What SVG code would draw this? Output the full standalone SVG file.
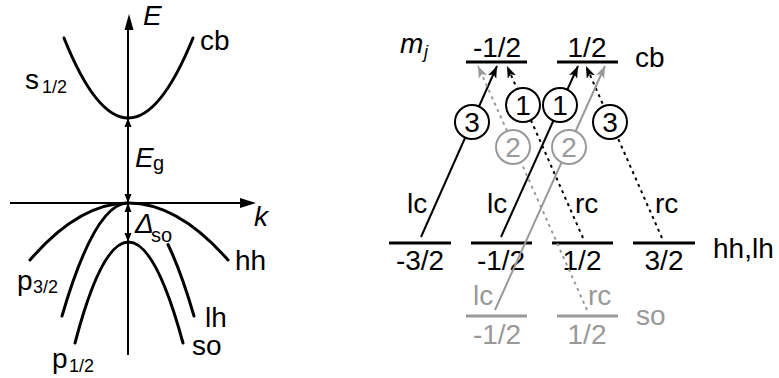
<svg xmlns="http://www.w3.org/2000/svg" width="779" height="378" viewBox="0 0 779 378">
<style>
text{font-family:"Liberation Sans",Arial,sans-serif;font-size:28px;fill:#000}
.it{font-style:italic}
.sub{font-size:18px}
.sub2{font-size:20px}
.g{fill:#999}
.mid{text-anchor:middle}
.band{fill:none;stroke:#000;stroke-width:3;stroke-linecap:round}
.axis{fill:none;stroke:#000;stroke-width:2}
.lvl{stroke:#000;stroke-width:3}
.lvlg{stroke:#999;stroke-width:3}
.tr{fill:none;stroke:#000;stroke-width:2}
.trg{fill:none;stroke:#999;stroke-width:2}
.dot{stroke-dasharray:3 4}
.circ{fill:#fff;stroke:#000;stroke-width:2}
.circg{fill:#fff;stroke:#999;stroke-width:2}
</style>
<defs>
<marker id="ah" markerUnits="userSpaceOnUse" markerWidth="13" markerHeight="10" refX="12" refY="4.5" orient="auto" viewBox="0 0 13 10">
<path d="M0,0 L12,4.5 L0,9 L3,4.5 z" fill="#000"/>
</marker>
<marker id="ahg" markerUnits="userSpaceOnUse" markerWidth="13" markerHeight="10" refX="12" refY="4.5" orient="auto" viewBox="0 0 13 10">
<path d="M0,0 L12,4.5 L0,9 L3,4.5 z" fill="#999"/>
</marker>
</defs>

<g id="band-diagram">
<g id="axes">
<line class="axis" x1="128" y1="355" x2="128" y2="28"/>
<polygon points="129,14 124.5,30 133.5,30" fill="#000"/>
<line class="axis" x1="10" y1="203" x2="242" y2="203"/>
<polygon points="256,203 240,198 240,208" fill="#000"/>
<text class="it" x="143" y="25">E</text>
<text class="it" x="254" y="226">k</text>
</g>
<g id="cb-band">
<path class="band" d="M64,38 Q128,198 193,38"/>
<text x="200" y="50">cb</text>
<text x="25" y="89">s</text><text class="sub" x="42" y="93">1/2</text>
</g>
<g id="gap">
<line class="axis" x1="128" y1="122" x2="128" y2="200"/>
<polygon points="128,118 124.5,127 131.5,127" fill="#000"/>
<polygon points="128,203 124.5,194 131.5,194" fill="#000"/>
<text class="it" x="135" y="167">E</text><text class="sub2" x="153" y="170">g</text>
</g>
<g id="hh-band">
<path class="band" d="M30,260 Q128,146 228,260"/>
<text x="235" y="270">hh</text>
<text x="17" y="290">p</text><text class="sub" x="33" y="293">3/2</text>
</g>
<g id="lh-band">
<path class="band" d="M62,316 Q95,203 128,203"/>
<path class="band" d="M168,244.5 Q181,271.4 194,316"/>
<text x="205" y="327">lh</text>
</g>
<g id="so-band">
<path class="band" d="M75,343 Q128,141 183,343"/>
<text x="192" y="355">so</text>
<text x="52" y="368">p</text><text class="sub" x="69" y="372">1/2</text>
</g>
<g id="split">
<polygon points="128,203 124.5,212 131.5,212" fill="#000"/>
<polygon points="128,242 124.5,233 131.5,233" fill="#000"/>
<text class="it" x="135" y="233">Δ</text><text class="sub2" x="151" y="242">so</text>
</g>
</g>

<g id="levels">
<text class="it" x="400" y="53">m</text><text class="it sub" x="424" y="58">j</text>
<g id="cb-m12"><line class="lvl" x1="466" y1="62" x2="527" y2="62"/><text class="mid" x="497" y="57">-1/2</text></g>
<g id="cb-p12"><line class="lvl" x1="557" y1="62" x2="618" y2="62"/><text class="mid" x="587" y="57">1/2</text></g>
<text x="635" y="67">cb</text>
<g id="hh-m32"><line class="lvl" x1="389" y1="243" x2="451" y2="243"/><text class="mid" x="420" y="270">-3/2</text></g>
<g id="hh-m12"><line class="lvl" x1="471" y1="243" x2="532" y2="243"/><text class="mid" x="501" y="270">-1/2</text></g>
<g id="hh-p12"><line class="lvl" x1="552" y1="243" x2="613" y2="243"/><text class="mid" x="582" y="270">1/2</text></g>
<g id="hh-p32"><line class="lvl" x1="633" y1="243" x2="695" y2="243"/><text class="mid" x="664" y="270">3/2</text></g>
<text x="713" y="258">hh,lh</text>
<g id="so-m12"><line class="lvlg" x1="466" y1="316" x2="527" y2="316"/><text class="mid g" x="497" y="344">-1/2</text></g>
<g id="so-p12"><line class="lvlg" x1="557" y1="316" x2="618" y2="316"/><text class="mid g" x="587" y="344">1/2</text></g>
<text class="g" x="636" y="325">so</text>
</g>

<g id="connectors">
<line class="tr" x1="421" y1="237" x2="497" y2="66" marker-end="url(#ah)"/>
<line class="tr" x1="501" y1="237" x2="578" y2="66" marker-end="url(#ah)"/>
<line class="tr dot" x1="583" y1="238" x2="507" y2="66" marker-end="url(#ah)"/>
<line class="tr dot" x1="662" y1="238" x2="586" y2="66" marker-end="url(#ah)"/>
<line class="trg" x1="495" y1="310" x2="605" y2="66" marker-end="url(#ahg)"/>
<line class="trg dot" x1="587" y1="310" x2="478" y2="66" marker-end="url(#ahg)"/>
<text x="407" y="213">lc</text>
<text x="487" y="213">lc</text>
<text x="575" y="213">rc</text>
<text x="655" y="213">rc</text>
<text class="g" x="473" y="305">lc</text>
<text class="g" x="588" y="305">rc</text>
<g id="c3a"><circle class="circ" cx="472" cy="122" r="17"/><text class="mid" x="472" y="132">3</text></g>
<g id="c1a"><circle class="circ" cx="523" cy="105" r="17"/><text class="mid" x="523" y="115">1</text></g>
<g id="c1b"><circle class="circ" cx="560" cy="105" r="17"/><text class="mid" x="560" y="115">1</text></g>
<g id="c3b"><circle class="circ" cx="610" cy="122" r="17"/><text class="mid" x="610" y="132">3</text></g>
<g id="c2a"><circle class="circg" cx="513" cy="147" r="17"/><text class="mid g" x="513" y="157">2</text></g>
<g id="c2b"><circle class="circg" cx="569" cy="147" r="17"/><text class="mid g" x="569" y="157">2</text></g>
</g>
</svg>
